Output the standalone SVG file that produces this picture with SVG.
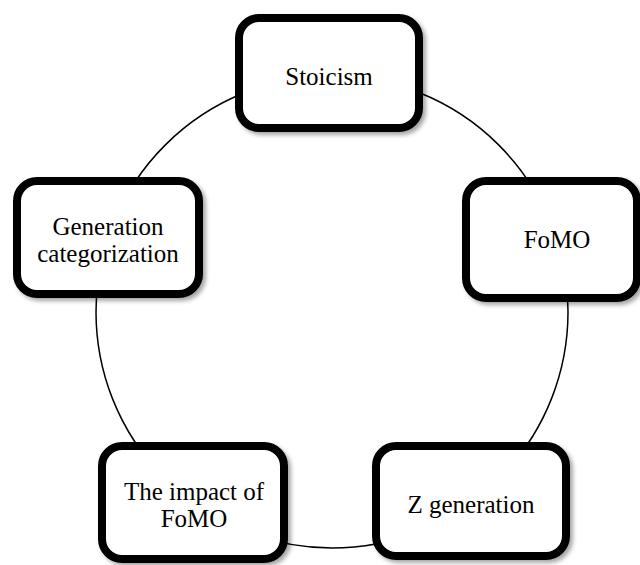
<svg xmlns="http://www.w3.org/2000/svg" width="640" height="565" viewBox="0 0 640 565">
  <defs>
    <filter id="sh" x="-10%" y="-10%" width="130%" height="130%">
      <feDropShadow dx="3" dy="3" stdDeviation="2" flood-color="#000" flood-opacity="0.35"/>
    </filter>
    <style>
      .box { fill: #fff; stroke: #000; stroke-width: 8; filter: url(#sh); }
      .lbl { font-family: "Liberation Serif", "Times New Roman", serif; font-size: 25px; fill: #000; text-anchor: middle; }
      .ring { fill: none; stroke: #000; stroke-width: 1.5; }
    </style>
  </defs>
  <rect width="640" height="565" fill="#fff"/>
  <g id="connectors">
    <circle class="ring" cx="332" cy="312" r="236"/>
  </g>
  <g id="stoicism">
    <rect class="box" x="239" y="18" width="180" height="110" rx="20"/>
    <text class="lbl" x="329" y="85">Stoicism</text>
  </g>
  <g id="fomo">
    <rect class="box" x="466" y="181" width="171" height="117" rx="20"/>
    <text class="lbl" x="557" y="248">FoMO</text>
  </g>
  <g id="z-generation">
    <rect class="box" x="376" y="446" width="190" height="110" rx="20"/>
    <text class="lbl" x="471" y="513">Z generation</text>
  </g>
  <g id="impact-of-fomo">
    <rect class="box" x="102" y="446" width="182" height="113" rx="20"/>
    <text class="lbl" x="194" y="500">The impact of</text>
    <text class="lbl" x="194" y="527">FoMO</text>
  </g>
  <g id="generation-categorization">
    <rect class="box" x="17" y="181" width="182" height="113" rx="20"/>
    <text class="lbl" x="108" y="235">Generation</text>
    <text class="lbl" x="108" y="262">categorization</text>
  </g>
</svg>
